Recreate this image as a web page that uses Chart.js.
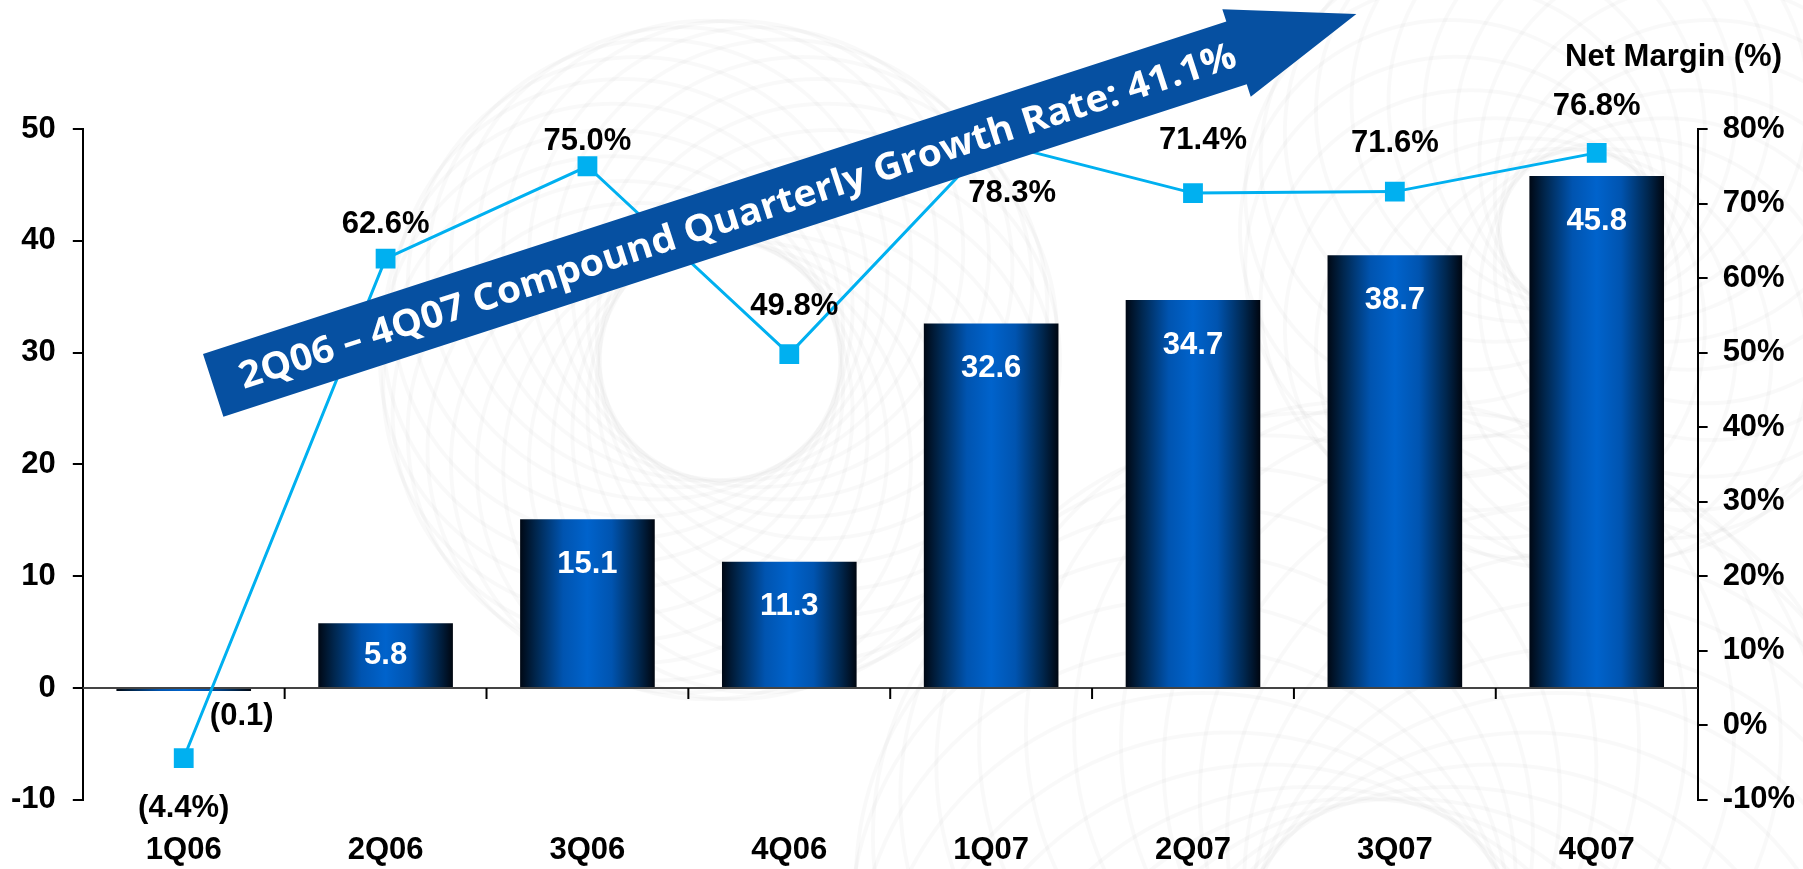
<!DOCTYPE html>
<html>
<head>
<meta charset="utf-8">
<script src="https://cdn.jsdelivr.net/npm/chart.js@4/dist/chart.umd.min.js"></script>
<style>
  html, body { margin: 0; padding: 0; background: #ffffff; }
  #wrap { width: 1803px; height: 869px; position: relative; }
</style>
</head>
<body>
<div id="wrap"><canvas id="c" width="1803" height="869"></canvas></div>
<script>
// Quarterly net income (bars, left axis) and net margin (line, right axis)
const quarters = ['1Q06', '2Q06', '3Q06', '4Q06', '1Q07', '2Q07', '3Q07', '4Q07'];
const netIncome = [-0.1, 5.8, 15.1, 11.3, 32.6, 34.7, 38.7, 45.8];
const netMargin = [-4.4, 62.6, 75.0, 49.8, 78.3, 71.4, 71.6, 76.8];
const leftTickLabels = ['-10', '0', '10', '20', '30', '40', '50'];
const rightTickLabels = ['-10%', '0%', '10%', '20%', '30%', '40%', '50%', '60%', '70%', '80%'];
const marginAxisTitle = 'Net Margin (%)';
const growthBanner = '2Q06 \u2013 4Q07 Compound Quarterly Growth Rate: 41.1%';

// Placement of the margin labels relative to their markers (px; positive dy = above)
const marginLabelDy = [-50, 34, 25, 48, -52, 53, 48, 46];
const marginLabelDx = [0, 0, 0, 5, 21, 10, 0, 0];

const FONT = '"Liberation Sans", Arial, Helvetica, sans-serif';
const BAR_SHARE = 0.667;

function fmtIncome(v) { return v < 0 ? '(' + Math.abs(v).toFixed(1) + ')' : v.toFixed(1); }
function fmtMargin(v) { return v < 0 ? '(' + Math.abs(v).toFixed(1) + '%)' : v.toFixed(1) + '%'; }

// Horizontal "cylinder" shading for each bar
function barGradient(context) {
  const chart = context.chart;
  if (!chart.chartArea || !chart.scales.x) return '#0060c8';
  const xs = chart.scales.x;
  const cx = xs.getPixelForValue(context.dataIndex);
  const half = (xs.width / quarters.length) * BAR_SHARE / 2;
  const g = chart.ctx.createLinearGradient(cx - half, 0, cx + half, 0);
  g.addColorStop(0.00, '#000814');
  g.addColorStop(0.12, '#00274f');
  g.addColorStop(0.32, '#0054b0');
  g.addColorStop(0.50, '#0063cc');
  g.addColorStop(0.68, '#0054b0');
  g.addColorStop(0.88, '#00274f');
  g.addColorStop(1.00, '#000610');
  return g;
}

// Faint guilloche rosettes in the background
function rosette(ctx, cx, cy, R, r, n) {
  for (let k = 0; k < n; k++) {
    const a = k * 2 * Math.PI / n;
    ctx.beginPath();
    ctx.arc(cx + R * Math.cos(a), cy + R * Math.sin(a), r, 0, 2 * Math.PI);
    ctx.stroke();
  }
}

const backdrop = {
  id: 'backdrop',
  beforeDraw(chart) {
    const ctx = chart.ctx;
    ctx.save();
    ctx.fillStyle = '#ffffff';
    ctx.fillRect(0, 0, chart.width, chart.height);
    ctx.strokeStyle = 'rgba(0,0,0,0.022)';
    ctx.lineWidth = 4;
    rosette(ctx, 720, 360, 110, 230, 26);
    rosette(ctx, 1580, 230, 130, 210, 22);
    rosette(ctx, 1380, 930, 200, 330, 26);
    ctx.restore();
  }
};

// Zero line with category separators
const zeroAxis = {
  id: 'zeroAxis',
  beforeDatasetsDraw(chart) {
    const { ctx, chartArea, scales } = chart;
    const y0 = scales.y.getPixelForValue(0);
    ctx.save();
    ctx.strokeStyle = '#444';
    ctx.lineWidth = 2;
    ctx.beginPath();
    ctx.moveTo(chartArea.left, y0);
    ctx.lineTo(chartArea.right, y0);
    ctx.stroke();
    ctx.strokeStyle = '#000';
    for (let i = 0; i < quarters.length - 1; i++) {
      const xb = (scales.x.getPixelForValue(i) + scales.x.getPixelForValue(i + 1)) / 2;
      ctx.beginPath();
      ctx.moveTo(xb, y0);
      ctx.lineTo(xb, y0 + 11);
      ctx.stroke();
    }
    ctx.restore();
  }
};

// Value labels for bars and margin points, axis caption, growth banner
const annotations = {
  id: 'annotations',
  afterDraw(chart) {
    const { ctx } = chart;
    ctx.save();
    ctx.font = 'bold 31px ' + FONT;
    ctx.textAlign = 'center';
    ctx.textBaseline = 'middle';

    const bars = chart.getDatasetMeta(1).data;
    bars.forEach((bar, i) => {
      const v = netIncome[i];
      if (v < 0) {
        ctx.fillStyle = '#000';
        ctx.fillText(fmtIncome(v), bar.x + 58, bar.base + 27);
      } else {
        ctx.fillStyle = '#fff';
        const y = Math.min(bar.y + 45, (bar.y + bar.base) / 2);
        ctx.fillText(fmtIncome(v), bar.x, y);
      }
    });

    const pts = chart.getDatasetMeta(0).data;
    ctx.fillStyle = '#000';
    pts.forEach((p, i) => {
      ctx.fillText(fmtMargin(netMargin[i]), p.x + marginLabelDx[i], p.y - marginLabelDy[i]);
    });

    ctx.textAlign = 'right';
    ctx.fillText(marginAxisTitle, 1782, 57);

    // growth arrow
    const ang = -18 * Math.PI / 180;
    ctx.translate(203, 354);
    ctx.rotate(ang);
    ctx.beginPath();
    ctx.moveTo(0, 0);
    ctx.lineTo(1076, 0);
    ctx.lineTo(1076, -13);
    ctx.lineTo(1202, 33);
    ctx.lineTo(1076, 79);
    ctx.lineTo(1076, 66);
    ctx.lineTo(0, 66);
    ctx.closePath();
    ctx.fillStyle = '#0650a1';
    ctx.fill();

    ctx.fillStyle = '#ffffff';
    ctx.textAlign = 'left';
    ctx.textBaseline = 'alphabetic';
    ctx.font = 'bold 37px "Open Sans", Lato, sans-serif';
    const w = ctx.measureText(growthBanner).width;
    ctx.translate(28, 46);
    ctx.scale(1046 / w, 1);
    ctx.fillText(growthBanner, 0, 0);
    ctx.restore();
  }
};

const tickFont = { family: FONT, size: 31, weight: 'bold' };

new Chart(document.getElementById('c'), {
  data: {
    labels: quarters,
    datasets: [
      {
        type: 'line',
        label: 'Net Margin',
        data: netMargin,
        yAxisID: 'y1',
        borderColor: '#00b0f0',
        borderWidth: 3,
        tension: 0,
        pointStyle: 'rect',
        pointRadius: 14,
        pointBackgroundColor: '#00b0f0',
        pointBorderWidth: 0,
        order: 0
      },
      {
        type: 'bar',
        label: 'Net Income',
        data: netIncome,
        yAxisID: 'y',
        backgroundColor: barGradient,
        borderWidth: 0,
        minBarLength: 3,
        barPercentage: BAR_SHARE,
        categoryPercentage: 1,
        order: 1
      }
    ]
  },
  options: {
    responsive: false,
    animation: false,
    devicePixelRatio: 1,
    layout: { padding: { left: -6, right: -7, top: 129, bottom: -32 } },
    plugins: { legend: { display: false }, tooltip: { enabled: false } },
    scales: {
      x: {
        type: 'category',
        position: 'bottom',
        grid: { display: false, drawTicks: false },
        border: { display: false },
        ticks: { color: '#000', font: tickFont, padding: 32, maxRotation: 0, autoSkip: false }
      },
      y: {
        position: 'left',
        min: -10,
        max: 50,
        ticks: { stepSize: 10, color: '#000', font: tickFont, padding: 17,
                 callback: (v, i) => leftTickLabels[i] },
        grid: { drawOnChartArea: false, drawTicks: true, tickLength: 10, color: '#000', lineWidth: 2 },
        border: { color: '#000', width: 2 }
      },
      y1: {
        position: 'right',
        min: -10,
        max: 80,
        ticks: { stepSize: 10, color: '#000', font: tickFont, padding: 15,
                 callback: (v, i) => rightTickLabels[i] },
        grid: { drawOnChartArea: false, drawTicks: true, tickLength: 10, color: '#000', lineWidth: 2 },
        border: { color: '#000', width: 2 }
      }
    }
  },
  plugins: [backdrop, zeroAxis, annotations]
});
</script>
</body>
</html>
